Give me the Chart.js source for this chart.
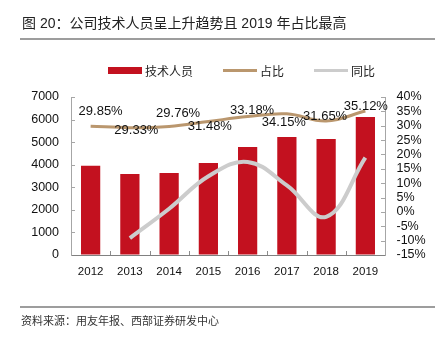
<!DOCTYPE html>
<html>
<head>
<meta charset="utf-8">
<script src="https://cdn.jsdelivr.net/npm/chart.js@4/dist/chart.umd.min.js"></script>
<style>
  html, body { margin: 0; padding: 0; background: #fff; }
  #wrap { position: relative; width: 444px; height: 338px; overflow: hidden; }
  #chart { position: absolute; left: 0; top: 0; }
  .title { position: absolute; left: 22px; top: 13px; font: 14px "Liberation Sans", "Noto Sans CJK SC", sans-serif; color: #222; line-height: 20px; white-space: nowrap; }
  .rule { position: absolute; left: 20px; width: 415px; height: 2px; background: #9d9d9d; }
  .source { position: absolute; left: 21px; top: 313px; font: 11px "Noto Sans CJK SC", sans-serif; color: #333; line-height: 15px; white-space: nowrap; }
</style>
</head>
<body>
<div id="wrap">
  <canvas id="chart" width="444" height="338"></canvas>
  <div class="title">图 20：公司技术人员呈上升趋势且 2019 年占比最高</div>
  <div class="rule" style="top:38px"></div>
  <div class="rule" style="top:306px"></div>
  <div class="source">资料来源：用友年报、西部证券研发中心</div>
</div>
<script>
// Technical staff headcount, its share of all employees, and year-on-year growth
const years = ['2012', '2013', '2014', '2015', '2016', '2017', '2018', '2019'];
const techStaff = [3950, 3590, 3630, 4080, 4790, 5230, 5140, 6110];
const staffShare = [29.85, 29.33, 29.76, 31.48, 33.18, 34.15, 31.65, 35.12];
const staffYoY = [null, -9.1, 1.1, 12.4, 17.4, 9.2, -1.7, 18.9];
const countTicks = [0, 1000, 2000, 3000, 4000, 5000, 6000, 7000];
const pctTicks = [-15, -10, -5, 0, 5, 10, 15, 20, 25, 30, 35, 40];
const seriesNames = ['技术人员', '占比', '同比'];

const RED = '#C3111F';
const TAN = '#BA976E';
const GREY = '#CCCCCC';
const NUM_FONT = '"Liberation Sans", Arial, sans-serif';

// Where each share label sits relative to its point (px)
const shareLabelShift = [
  [10, -15], [6.5, 3], [9, -12.5], [1.5, 5],
  [4.5, -6.5], [-3, 8.5], [-1, -5], [0.5, -5]
];

// Short tick marks drawn on the inner side of each axis
const insideTicks = {
  id: 'insideTicks',
  beforeDatasetsDraw(chart) {
    const { ctx, chartArea: a, scales } = chart;
    const seg = (x1, y1, x2, y2) => { ctx.beginPath(); ctx.moveTo(x1, y1); ctx.lineTo(x2, y2); ctx.stroke(); };
    ctx.save();
    ctx.lineWidth = 1;
    ctx.strokeStyle = '#a6a6a6';
    scales.y.ticks.forEach(t => {
      const py = Math.round(scales.y.getPixelForValue(t.value)) + 0.5;
      if (py < a.bottom - 1) seg(a.left, py, a.left + 4, py);
    });
    scales.y1.ticks.forEach(t => {
      const py = Math.round(scales.y1.getPixelForValue(t.value)) + 0.5;
      if (py < a.bottom - 1) seg(a.right - 4, py, a.right, py);
    });
    ctx.strokeStyle = '#8c8c8c';
    for (let i = 1; i < years.length; i++) {
      const px = Math.round((scales.x.getPixelForValue(i - 1) + scales.x.getPixelForValue(i)) / 2) + 0.5;
      seg(px, a.bottom, px, a.bottom - 4);
    }
    ctx.restore();
  }
};

// Value labels for the share line
const shareLabels = {
  id: 'shareLabels',
  afterDatasetsDraw(chart) {
    const { ctx } = chart;
    const meta = chart.getDatasetMeta(1);
    ctx.save();
    ctx.font = '13px ' + NUM_FONT;
    ctx.fillStyle = '#111';
    ctx.textAlign = 'center';
    ctx.textBaseline = 'middle';
    meta.data.forEach((pt, i) => {
      const [dx, dy] = shareLabelShift[i];
      ctx.fillText(staffShare[i].toFixed(2) + '%', pt.x + dx, pt.y + dy);
    });
    ctx.restore();
  }
};

// Legend row above the plot
const legendRow = {
  id: 'legendRow',
  afterDraw(chart) {
    const { ctx } = chart;
    const cy = 70.5;
    let x = 108;
    ctx.save();
    ctx.font = '12px "Noto Sans CJK SC", sans-serif';
    ctx.textBaseline = 'middle';
    ctx.fillStyle = '#222';
    chart.data.datasets.forEach((ds, i) => {
      if (i === 0) {
        ctx.fillStyle = ds.backgroundColor;
        ctx.fillRect(x, cy - 3.5, 34, 7);
      } else {
        ctx.strokeStyle = ds.borderColor;
        ctx.lineWidth = 3;
        ctx.beginPath();
        ctx.moveTo(x, cy);
        ctx.lineTo(x + 34, cy);
        ctx.stroke();
      }
      x += 34 + 3;
      ctx.fillStyle = '#222';
      ctx.fillText(ds.label, x, cy + 0.5);
      x += ctx.measureText(ds.label).width + 30;
    });
    ctx.restore();
  }
};

new Chart(document.getElementById('chart'), {
  data: {
    labels: years,
    datasets: [
      {
        type: 'bar',
        label: seriesNames[0],
        data: techStaff,
        yAxisID: 'y',
        backgroundColor: RED,
        borderWidth: 0,
        categoryPercentage: 1,
        barPercentage: 0.49,
        order: 3
      },
      {
        type: 'line',
        label: seriesNames[1],
        data: staffShare,
        yAxisID: 'y1',
        borderColor: TAN,
        borderWidth: 3,
        tension: 0.4,
        pointRadius: 0,
        fill: false,
        order: 2
      },
      {
        type: 'line',
        label: seriesNames[2],
        data: staffYoY,
        yAxisID: 'y1',
        borderColor: GREY,
        borderWidth: 4,
        tension: 0.4,
        pointRadius: 0,
        fill: false,
        order: 1
      }
    ]
  },
  options: {
    responsive: false,
    animation: false,
    layout: { padding: { top: 97, bottom: 63, left: 0, right: 0 } },
    plugins: { legend: { display: false }, tooltip: { enabled: false } },
    scales: {
      x: {
        type: 'category',
        offset: true,
        grid: { display: true, drawOnChartArea: false, drawTicks: false },
        border: { display: true, color: '#808080', width: 1 },
        ticks: { color: '#111', font: { family: NUM_FONT, size: 11.5 }, padding: 10, maxRotation: 0, autoSkip: false },
        afterFit(s) { s.height = 20; }
      },
      y: {
        position: 'left',
        min: 0,
        max: 7000,
        afterBuildTicks(s) { s.ticks = countTicks.map(v => ({ value: v })); },
        grid: { display: true, drawOnChartArea: false, drawTicks: false },
        border: { display: true, color: '#a6a6a6', width: 1 },
        ticks: { color: '#111', font: { family: NUM_FONT, size: 12.5 }, padding: 12, autoSkip: false, callback: v => String(v) },
        afterFit(s) { s.width = 71; }
      },
      y1: {
        position: 'right',
        min: -15,
        max: 40,
        afterBuildTicks(s) { s.ticks = pctTicks.map(v => ({ value: v })); },
        grid: { display: true, drawOnChartArea: false, drawTicks: false },
        border: { display: true, color: '#a6a6a6', width: 1 },
        ticks: { color: '#111', font: { family: NUM_FONT, size: 12.5 }, padding: 11.5, autoSkip: false, callback: v => v + '%' },
        afterFit(s) { s.width = 59; }
      }
    }
  },
  plugins: [insideTicks, shareLabels, legendRow]
});
</script>
</body>
</html>
